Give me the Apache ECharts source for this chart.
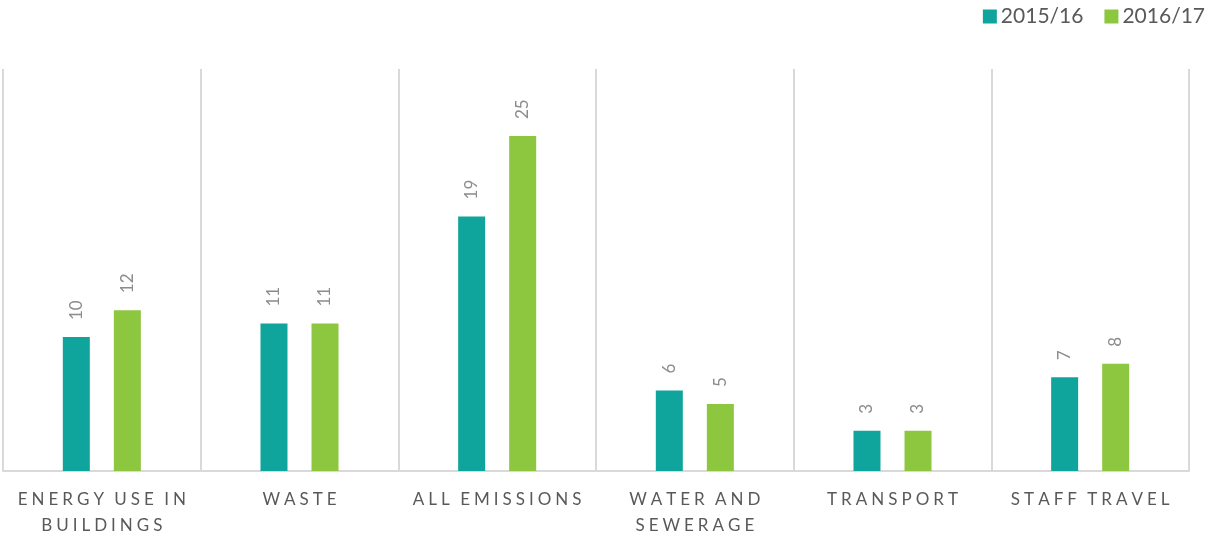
<!DOCTYPE html>
<html><head><meta charset="utf-8">
<script src="https://cdn.jsdelivr.net/npm/echarts@6/dist/echarts.min.js"></script>
<style>html,body{margin:0;padding:0;background:#fff}#c{width:1208px;height:538px}</style>
</head><body><div id="c"></div>
<script>
const categories = ['ENERGY USE IN\nBUILDINGS', 'WASTE', 'ALL EMISSIONS', 'WATER AND\nSEWERAGE', 'TRANSPORT', 'STAFF TRAVEL'];
const seriesNames = ['2015/16', '2016/17'];
const values2015 = [10, 11, 19, 6, 3, 7];
const values2016 = [12, 11, 25, 5, 3, 8];
const colors = ['#10a59c', '#8dc63f'];
const FONT = 'Lato, "Open Sans", sans-serif';
const chart = echarts.init(document.getElementById('c'));
const label = {
  show: true, position: 'top', rotate: 90, align: 'left', verticalAlign: 'middle',
  distance: 17, color: '#8c8c8c', fontSize: 17, fontFamily: FONT
};
// letter-spaced label: each character as a rich-text token with side padding
function spaced(v) {
  return v.split('\n').map(line =>
    line.split('').map(ch => ch === ' ' ? '{s| }' : '{c|' + ch + '}').join('')
  ).join('\n');
}
const tok = { color: '#595959', fontSize: 17, fontFamily: FONT, padding: [0, 2, 0, 2], lineHeight: 26 };
chart.setOption({
  animation: false,
  color: colors,
  legend: {
    right: 3, top: 6, padding: 0, itemWidth: 14, itemHeight: 14, itemGap: 21,
    icon: 'rect',
    textStyle: { color: '#595959', fontSize: 21, fontFamily: FONT, padding: [0, 0, 0, -1] },
    data: seriesNames
  },
  grid: { left: 3, right: 19, top: 69, bottom: 67, outerBoundsMode: 'none', containLabel: false },
  xAxis: {
    type: 'category', data: categories,
    axisLine: { lineStyle: { color: '#d9d9d9', width: 2 } },
    axisTick: { show: false },
    splitLine: { show: true, lineStyle: { color: '#d9d9d9', width: 2 } },
    axisLabel: {
      color: '#595959', fontSize: 17, fontFamily: FONT, margin: 16, lineHeight: 26, interval: 0,
      formatter: spaced,
      rich: { c: tok, s: Object.assign({}, tok, { padding: [0, 1, 0, 1] }) }
    }
  },
  yAxis: { type: 'value', min: 0, max: 30, show: false, splitLine: { show: false } },
  series: [
    { name: seriesNames[0], type: 'bar', data: values2015, barWidth: 27, barGap: '89%', label: label },
    { name: seriesNames[1], type: 'bar', data: values2016, barWidth: 27, label: label }
  ]
});
</script></body></html>
